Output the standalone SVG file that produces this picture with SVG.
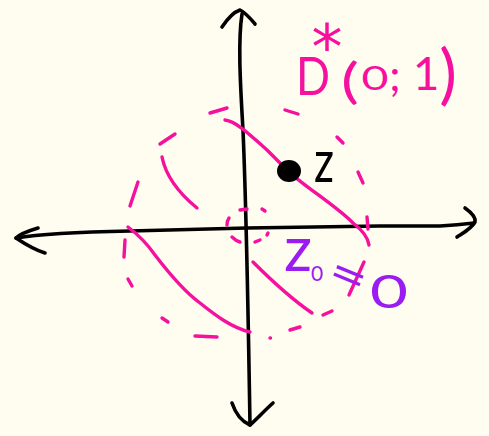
<svg xmlns="http://www.w3.org/2000/svg" width="489" height="436" viewBox="0 0 489 436">
<style>
.ax{fill:none;stroke:#000;stroke-width:3.6;stroke-linecap:round;stroke-linejoin:round}
.pk{fill:none;stroke:#f5109e;stroke-width:3.4;stroke-linecap:round;stroke-linejoin:round}
.tp{fill:#f5109e;font-family:Lato,"Liberation Sans",sans-serif;font-weight:400}
.tv{fill:#9b1cf0;font-family:Lato,"Liberation Sans",sans-serif;font-weight:400}
.tb{fill:#000;font-family:Lato,"Liberation Sans",sans-serif;font-weight:400}
</style>
<rect width="489" height="436" fill="#fffdf0"/>
<g id="axes">
<path class="ax" d="M242,14 C238,40 240,80 243,130 C246,200 248,300 250,425"/>
<path class="ax" d="M222,27 C228,18 234,12 240,10 C246,13 250,18 255,24"/>
<path class="ax" d="M232,403 C236,415 243,422 250,425 C256,420 265,410 273,403"/>
<path class="ax" d="M16,238 C40,234 80,232 130,231 L247,228 L380,226 L440,226 C455,225 465,224 474,223"/>
<path class="ax" d="M38,228 C28,231 20,234 16,238 C25,244 35,250 45,253"/>
<path class="ax" d="M465,208 C472,213 476,218 475,222 C471,229 463,233 457,237"/>
</g>
<g id="dashed-circle">
<path class="pk" d="M210,113 L227,108 M285,110 L298,114 M337,137 L343,143 M358,172 L363,183 M367,217 L368,229 M364,262 L349,295 M323,315 L332,311 M290,330 L300,327 M270,338 L270.5,338 M195,336 L217,337 M162,318 L168,322 M128,279 L132,286 M125,240 L124,257 M138,182 L130,206 M160,144 L175,134"/>
<path class="pk" d="M162,157 C165,172 175,190 197,208"/>
</g>
<g id="small-dashed-circle">
<path class="pk" d="M240,210 L247,209 M262,209 L265,211 M229,218 Q227,221 227,225 M232,237 Q236,241 240,242 M255,242 L260,240 M267,235 L268,233"/>
</g>
<g id="curves">
<path class="pk" d="M225,120 C238,122 252,137 267,150 L288,171 C305,187 335,205 353,223 C362,230 368,237 369,245"/>
<path class="pk" d="M128,227 C140,236 148,245 155,255 C168,272 185,292 200,303 C215,315 232,328 250,332"/>
<path class="pk" d="M253,262 C270,279 290,298 312,313"/>
</g>
<g id="point-z">
<ellipse cx="289" cy="171" rx="12" ry="11" fill="#000"/>
<text class="tb" x="314" y="182" font-size="58" textLength="20" lengthAdjust="spacingAndGlyphs">z</text>
</g>
<g id="label-D">
<text class="tp" x="296" y="95" font-size="52" textLength="34" lengthAdjust="spacingAndGlyphs">D</text>
<text class="tp" x="327" y="69" font-size="62" text-anchor="middle" style="font-family:'DejaVu Sans',sans-serif">*</text>
<text class="tp" x="350" y="98" font-size="48" text-anchor="middle" textLength="18" lengthAdjust="spacingAndGlyphs">(</text>
<text class="tp" x="375" y="90" font-size="32" text-anchor="middle" textLength="27" lengthAdjust="spacingAndGlyphs">0</text>
<text class="tp" x="395" y="91" font-size="45" text-anchor="middle">;</text>
<text class="tp" x="426" y="90" font-size="46" text-anchor="middle">1</text>
<text class="tp" x="448" y="97" font-size="66" text-anchor="middle">)</text>
</g>
<g id="label-z0">
<text class="tv" x="284" y="271" font-size="62">z</text>
<text class="tv" x="311" y="281" font-size="21">0</text>
<text class="tv" transform="translate(349,274.5) rotate(22)" x="0" y="17.5" font-size="48" text-anchor="middle" textLength="38" lengthAdjust="spacingAndGlyphs">=</text>
<text class="tv" x="389" y="308" font-size="46" text-anchor="middle" textLength="38" lengthAdjust="spacingAndGlyphs">0</text>
</g>
</svg>
